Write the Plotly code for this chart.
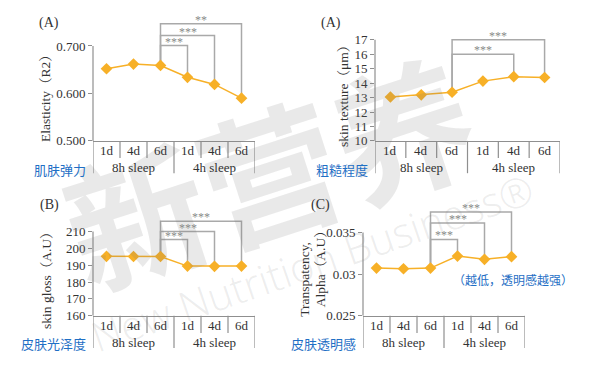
import plotly.graph_objects as go

# ---------------- data ----------------
days = ["1d", "4d", "6d", "1d", "4d", "6d"]
groups = ["8h sleep", "4h sleep"]

elasticity = [0.652, 0.662, 0.659, 0.634, 0.619, 0.590]
texture = [13.04, 13.19, 13.37, 14.14, 14.45, 14.39]
gloss = [195.3, 195.2, 195.2, 189.5, 189.4, 189.5]
transparency = [0.03073, 0.03065, 0.03073, 0.03218, 0.03178, 0.03210]

bracket_ref = 2  # 8h sleep 6d
elast_br_to = [3, 4, 5]
elast_br_h = [0.701, 0.722, 0.747]
elast_br_lbl = ["***", "***", "**"]
text_br_to = [4, 5]
text_br_h = [16.0, 17.0]
text_br_lbl = ["***", "***"]
gloss_br_to = [3, 4, 5]
gloss_br_h = [205.3, 210.0, 216.2]
gloss_br_lbl = ["***", "***", "***"]
transp_br_to = [3, 4, 5]
transp_br_h = [0.03418, 0.03614, 0.03747]
transp_br_lbl = ["***", "***", "***"]

elast_ticks = [0.5, 0.6, 0.7]
elast_ticktext = ["0.500", "0.600", "0.700"]
text_ticks = [10, 11, 12, 13, 14, 15, 16, 17]
gloss_ticks = [160, 170, 180, 190, 200, 210]
transp_ticks = [0.025, 0.03, 0.035]
transp_ticktext = ["0.025", "0.03", "0.035"]

# ---------------- style / geometry ----------------
W, H = 598, 372
ORANGE = "#F7B027"
GRAY = "#a9a9a9"
AXIS = "#8f8f8f"
TXT = "#333333"
BLUE = "#1f6fc5"
SERIF = "Liberation Serif, Noto Serif CJK SC, Noto Sans CJK SC, serif"
CJK = "Noto Sans CJK SC, sans-serif"
FS = 13


def py(p):
    return 1 - p / H


def px(p):
    return p / W


panels = [
    dict(vals=elasticity, ticks=elast_ticks, ticktext=elast_ticktext,
         br_to=elast_br_to, br_h=elast_br_h, br_lbl=elast_br_lbl,
         label="(A)", ytitle=["Elasticity（R2）"], cn="肌肤弹力",
         x0=93, x1=255, cal=(0.5, 144, 0.7, 47), rtop=0.775,
         label_pos=(49, 24), ytitle_pos=[(46, 97)], cn_pos=(88, 173)),
    dict(vals=texture, ticks=text_ticks, ticktext=[str(t) for t in text_ticks],
         br_to=text_br_to, br_h=text_br_h, br_lbl=text_br_lbl,
         label="(A)", ytitle=["skin texture（μm）"], cn="粗糙程度",
         x0=375, x1=560, cal=(10, 144, 17, 40.7), rtop=18,
         label_pos=(331, 24), ytitle_pos=[(344, 95)], cn_pos=(370, 173)),
    dict(vals=gloss, ticks=gloss_ticks, ticktext=[str(t) for t in gloss_ticks],
         br_to=gloss_br_to, br_h=gloss_br_h, br_lbl=gloss_br_lbl,
         label="(B)", ytitle=["skin gloss（A.U）"], cn="皮肤光泽度",
         x0=93, x1=255, cal=(160, 322.7, 210, 236.7), rtop=222,
         label_pos=(49, 210), ytitle_pos=[(47, 283)], cn_pos=(88, 351)),
    dict(vals=transparency, ticks=transp_ticks, ticktext=transp_ticktext,
         br_to=transp_br_to, br_h=transp_br_h, br_lbl=transp_br_lbl,
         label="(C)", ytitle=["Transpatency,", "Alpha（A.U）"], cn="皮肤透明感",
         x0=363, x1=525, cal=(0.025, 322.7, 0.035, 237.7), rtop=0.0385,
         label_pos=(320, 210), ytitle_pos=[(305, 286), (320, 272)], cn_pos=(358, 351)),
]

fig = go.Figure()
annotations = []
shapes = []

# watermark
annotations.append(dict(text="新营养", x=px(268), y=py(172), xref="paper", yref="paper",
                        xanchor="center", yanchor="middle",
                        showarrow=False, textangle=-18,
                        font=dict(family=CJK, size=140, color="rgba(120,120,120,0.16)", weight=700)))
annotations.append(dict(text="New Nutrition Business®", x=px(312), y=py(268), xref="paper", yref="paper",
                        xanchor="center", yanchor="middle",
                        showarrow=False, textangle=-19,
                        font=dict(family="Open Sans, sans-serif", size=41, color="rgba(120,120,120,0.14)", weight=300)))

xs = list(range(len(days)))

for k, p in enumerate(panels):
    n = k + 1
    xa = "x" if n == 1 else f"x{n}"
    ya = "y" if n == 1 else f"y{n}"
    lx = "xaxis" if n == 1 else f"xaxis{n}"
    lyk = "yaxis" if n == 1 else f"yaxis{n}"
    vals = p["vals"]
    vlow, plow, vhigh, phigh = p["cal"]
    scale = (phigh - plow) / (vhigh - vlow)
    top_px = plow + (p["rtop"] - vlow) * scale

    # brackets
    for t, h, lbl in zip(p["br_to"], p["br_h"], p["br_lbl"]):
        fig.add_trace(go.Scatter(
            x=[bracket_ref, bracket_ref, t, t], y=[vals[bracket_ref], h, h, vals[t]],
            mode="lines", line=dict(color=GRAY, width=1.5),
            xaxis=xa, yaxis=ya, hoverinfo="skip", showlegend=False))
        annotations.append(dict(text=lbl, x=(bracket_ref + t) / 2, y=h, xref=xa, yref=ya,
                                showarrow=False, xanchor="center", yanchor="bottom", yshift=-5,
                                font=dict(family=SERIF, size=12, color="#8a8a8a")))

    # data line
    fig.add_trace(go.Scatter(
        x=xs, y=vals, mode="lines+markers",
        line=dict(color=ORANGE, width=1.5),
        marker=dict(symbol="diamond", size=9, color=ORANGE),
        xaxis=xa, yaxis=ya, showlegend=False, cliponaxis=False))

    fig.layout[lx] = dict(domain=[px(p["x0"]), px(p["x1"])], range=[-0.5, len(days) - 0.5],
                          showgrid=False, zeroline=False, showticklabels=False, ticks="",
                          showline=True, linecolor=AXIS, linewidth=1.2, anchor=ya, fixedrange=True)
    fig.layout[lyk] = dict(domain=[py(plow), py(top_px)], range=[vlow, p["rtop"]],
                           showgrid=False, zeroline=False, showline=False,
                           tickvals=p["ticks"], ticktext=p["ticktext"],
                           ticks="outside", ticklen=4, tickwidth=1.2, tickcolor=AXIS,
                           tickfont=dict(family=SERIF, size=FS, color=TXT),
                           anchor=xa, fixedrange=True)

    # y axis line from lowest to highest tick
    shapes.append(dict(type="line", xref=f"{xa} domain", yref=ya, x0=0, x1=0,
                       y0=min(p["ticks"]), y1=max(p["ticks"]),
                       line=dict(color=AXIS, width=1.2)))

    # category table
    per = len(days) // len(groups)
    for b in range(len(days) + 1):
        long = (b % per == 0)
        shapes.append(dict(type="line", xref=xa, yref="paper", x0=b - 0.5, x1=b - 0.5,
                           y0=py(plow), y1=py(plow + (33 if long else 17.5)),
                           line=dict(color=AXIS, width=1.2)))
    for i, d in enumerate(days):
        annotations.append(dict(text=d, x=i, y=py(plow + 10), xref=xa, yref="paper",
                                showarrow=False, xanchor="center", yanchor="middle",
                                font=dict(family=SERIF, size=FS, color=TXT)))
    for g, name in enumerate(groups):
        annotations.append(dict(text=name, x=g * per + (per - 1) / 2, y=py(plow + 27.5),
                                xref=xa, yref="paper", showarrow=False,
                                xanchor="center", yanchor="middle",
                                font=dict(family=SERIF, size=FS, color=TXT)))

    # labels
    lxp, lyp = p["label_pos"]
    annotations.append(dict(text=p["label"], x=px(lxp), y=py(lyp), xref="paper", yref="paper",
                            xanchor="center", yanchor="middle",
                            showarrow=False, font=dict(family=SERIF, size=14, color=TXT)))
    for t, (tx, ty) in zip(p["ytitle"], p["ytitle_pos"]):
        annotations.append(dict(text=t, x=px(tx), y=py(ty), xref="paper", yref="paper",
                                xanchor="center", yanchor="middle",
                                showarrow=False, textangle=-90,
                                font=dict(family=SERIF, size=13.5, color=TXT)))
    cx, cy = p["cn_pos"]
    annotations.append(dict(text=p["cn"], x=px(cx), y=py(cy), xref="paper", yref="paper",
                            xanchor="right", yanchor="middle", showarrow=False,
                            font=dict(family=CJK, size=13, color=BLUE)))

annotations.append(dict(text="（越低，透明感越强）", x=px(513), y=py(286), xref="paper", yref="paper",
                        xanchor="center", yanchor="middle",
                        showarrow=False, font=dict(family=CJK, size=12, color=BLUE)))

fig.update_layout(width=W, height=H, margin=dict(l=0, r=0, t=0, b=0),
                  paper_bgcolor="white", plot_bgcolor="rgba(0,0,0,0)",
                  annotations=annotations, shapes=shapes, showlegend=False)

fig.write_html("out.html")
